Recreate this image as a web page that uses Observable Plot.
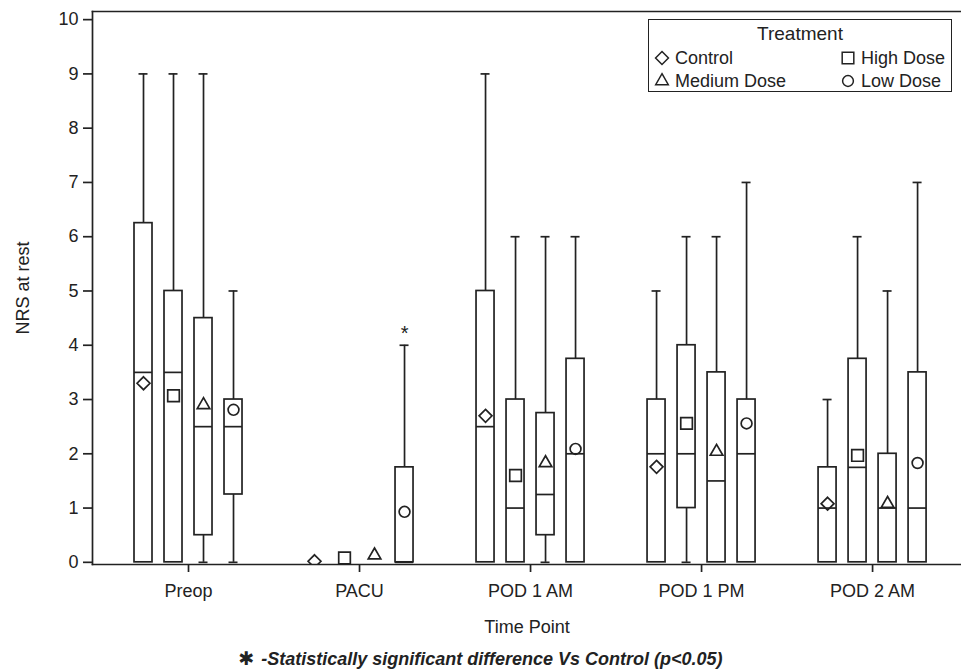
<!DOCTYPE html>
<html>
<head>
<meta charset="utf-8">
<script src="https://cdn.jsdelivr.net/npm/d3@7"></script>
<script src="https://cdn.jsdelivr.net/npm/@observablehq/plot@0.6"></script>
<style>
  html, body { margin: 0; padding: 0; background: #fff; }
  #wrap { position: relative; width: 961px; height: 672px; font-family: "Liberation Sans", Arial, sans-serif; color: #222; overflow: hidden; }
  #legend { position: absolute; left: 648px; top: 19px; width: 304px; height: 73px; box-sizing: border-box; border: 1.7px solid #222; background: #fff; font-size: 18px; }
  #legend .title { position: absolute; left: 0; right: 0; top: 3px; text-align: center; font-size: 19px; }
  #legend .item { position: absolute; height: 22px; line-height: 22px; white-space: nowrap; }
  #legend svg { position: absolute; top: 0; }
  #legend .lab { position: absolute; top: 0; }
  #foot { position: absolute; left: 0; width: 961px; top: 646px; text-align: center; font-size: 18px; font-weight: bold; font-style: italic; line-height: 24px; white-space: nowrap; }
  #foot .star { font-family: "DejaVu Sans", sans-serif; font-style: normal; font-weight: bold; font-size: 19px; margin-right: 7px; }
</style>
</head>
<body>
<div id="wrap">
  <div id="chart"></div>
  <div id="legend"></div>
  <div id="foot"></div>
</div>
<script>
// ---- data ----
const timePoints = ["Preop", "PACU", "POD 1 AM", "POD 1 PM", "POD 2 AM"];
const treatments = ["Control", "High Dose", "Medium Dose", "Low Dose"];
const yTicks = [0, 1, 2, 3, 4, 5, 6, 7, 8, 9, 10];
// rows: time points; columns: treatments (Control, High Dose, Medium Dose, Low Dose)
const whiskerLow = [
  [0, 0, 0, 0],
  [0, 0, 0, 0],
  [0, 0, 0, 0],
  [0, 0, 0, 0],
  [0, 0, 0, 0]
];
const q1 = [
  [0, 0, 0.5, 1.25],
  [0, 0, 0, 0],
  [0, 0, 0.5, 0],
  [0, 1, 0, 0],
  [0, 0, 0, 0]
];
const medians = [
  [3.5, 3.5, 2.5, 2.5],
  [0, 0, 0, 0],
  [2.5, 1, 1.25, 2],
  [2, 2, 1.5, 2],
  [1, 1.75, 1, 1]
];
const q3 = [
  [6.25, 5, 4.5, 3],
  [0, 0, 0, 1.75],
  [5, 3, 2.75, 3.75],
  [3, 4, 3.5, 3],
  [1.75, 3.75, 2, 3.5]
];
const whiskerHigh = [
  [9, 9, 9, 5],
  [0, 0, 0, 4],
  [9, 6, 6, 6],
  [5, 6, 6, 7],
  [3, 6, 5, 7]
];
const means = [
  [3.3, 3.07, 2.9, 2.81],
  [0.02, 0.08, 0.13, 0.93],
  [2.7, 1.6, 1.83, 2.09],
  [1.76, 2.56, 2.04, 2.56],
  [1.08, 1.97, 1.08, 1.83]
];
const significant = [["PACU", "Low Dose"]];
const footnoteText = "-Statistically significant difference Vs Control (p<0.05)";

// ---- layout constants ----
const groupStep = 30 / 171;   // offset between treatments (in time-point units)
const boxHalf = 9 / 171;
const capHalf = 4.5 / 171;
const symbols = {"Control": "diamond2", "High Dose": "square2", "Medium Dose": "triangle2", "Low Dose": "circle"};
const symbolR = {"Control": 5.8, "High Dose": 7.4, "Medium Dose": 6.0, "Low Dose": 5.4};
const ink = "#222";
const sw = 1.7;

// ---- build table ----
const rows = [];
timePoints.forEach((t, i) => treatments.forEach((tr, j) => {
  rows.push({
    time: t, treatment: tr,
    xc: i + (j - 1.5) * groupStep,
    lo: whiskerLow[i][j], q1: q1[i][j], med: medians[i][j], q3: q3[i][j], hi: whiskerHigh[i][j], mean: means[i][j],
    sig: significant.some(([a, b]) => a === t && b === tr)
  });
}));
const boxed = rows.filter(d => d.q3 > d.q1);

const marks = [
  // upper whiskers
  Plot.ruleX(rows.filter(d => d.hi > d.q3), {x: "xc", y1: "q3", y2: "hi", stroke: ink, strokeWidth: sw}),
  // lower whiskers
  Plot.ruleX(rows.filter(d => d.lo < d.q1), {x: "xc", y1: "lo", y2: "q1", stroke: ink, strokeWidth: sw}),
  // caps
  Plot.ruleY(rows.filter(d => d.hi > d.q3), {y: "hi", x1: d => d.xc - capHalf, x2: d => d.xc + capHalf, stroke: ink, strokeWidth: sw}),
  Plot.ruleY(rows.filter(d => d.lo < d.q1), {y: "lo", x1: d => d.xc - capHalf, x2: d => d.xc + capHalf, stroke: ink, strokeWidth: sw}),
  // boxes
  Plot.rect(boxed, {x1: d => d.xc - boxHalf, x2: d => d.xc + boxHalf, y1: "q1", y2: "q3", fill: "white", stroke: ink, strokeWidth: sw}),
  // medians
  Plot.ruleY(boxed, {y: "med", x1: d => d.xc - boxHalf, x2: d => d.xc + boxHalf, stroke: ink, strokeWidth: sw}),
  // means
  ...treatments.map(tr => Plot.dot(rows.filter(d => d.treatment === tr), {
    x: "xc", y: "mean", symbol: () => symbols[tr], r: symbolR[tr], stroke: ink, strokeWidth: sw, fill: "none", clip: true
  })),
  // significance asterisk
  Plot.text(rows.filter(d => d.sig), {x: "xc", y: "hi", text: () => "*", dy: -12, fontSize: 20, fill: ink}),
  // axes
  Plot.axisY({ticks: yTicks, tickSize: 9, tickPadding: 5, stroke: ink, strokeWidth: sw,
    label: "NRS at rest", labelAnchor: "center", labelArrow: "none", labelOffset: 76}),
  Plot.axisX({ticks: [0, 1, 2, 3, 4], tickFormat: i => timePoints[i], tickSize: 8, tickPadding: 12, stroke: ink, strokeWidth: sw,
    label: "Time Point", labelAnchor: "center", labelArrow: "none", labelOffset: 68}),
  // frame (right edge lies beyond the picture)
  Plot.frame({anchor: "left", stroke: ink, strokeWidth: sw}),
  Plot.frame({anchor: "top", stroke: ink, strokeWidth: sw}),
  Plot.frame({anchor: "bottom", stroke: ink, strokeWidth: sw})
];

const chart = Plot.plot({
  width: 961,
  height: 645,
  marginLeft: 92,
  marginRight: 0,
  marginTop: 11,
  marginBottom: 81,
  style: {fontFamily: "'Liberation Sans', Arial, sans-serif", fontSize: "18px", color: ink, background: "white"},
  x: {type: "linear", domain: [-0.5614, 4.52]},
  y: {domain: [-0.04, 10.15]},
  symbol: {type: "identity"},
  marks
});
document.getElementById("chart").appendChild(chart);

// ---- legend (HTML overlay) ----
const legend = document.getElementById("legend");
const title = document.createElement("div");
title.className = "title";
title.textContent = "Treatment";
legend.appendChild(title);
const d3sym = {"Control": d3.symbolDiamond2, "High Dose": d3.symbolSquare2, "Medium Dose": d3.symbolTriangle2, "Low Dose": d3.symbolCircle};
treatments.forEach((tr, j) => {
  const col = j % 2, row = Math.floor(j / 2);
  const item = document.createElement("div");
  item.className = "item";
  item.style.left = (col === 0 ? 4 : 190) + "px";
  item.style.top = (27 + row * 23) + "px";
  const r = symbolR[tr];
  const path = d3.symbol(d3sym[tr], Math.PI * r * r)();
  item.innerHTML = `<svg width="18" height="22" viewBox="-9 -11 18 22"><path d="${path}" fill="none" stroke="${ink}" stroke-width="1.5"/></svg><span class="lab" style="left:22px">${tr}</span>`;
  legend.appendChild(item);
});

// ---- footnote ----
const foot = document.getElementById("foot");
foot.innerHTML = `<span class="star">✱</span>${footnoteText.replace("<", "&lt;")}`;
</script>
</body>
</html>
